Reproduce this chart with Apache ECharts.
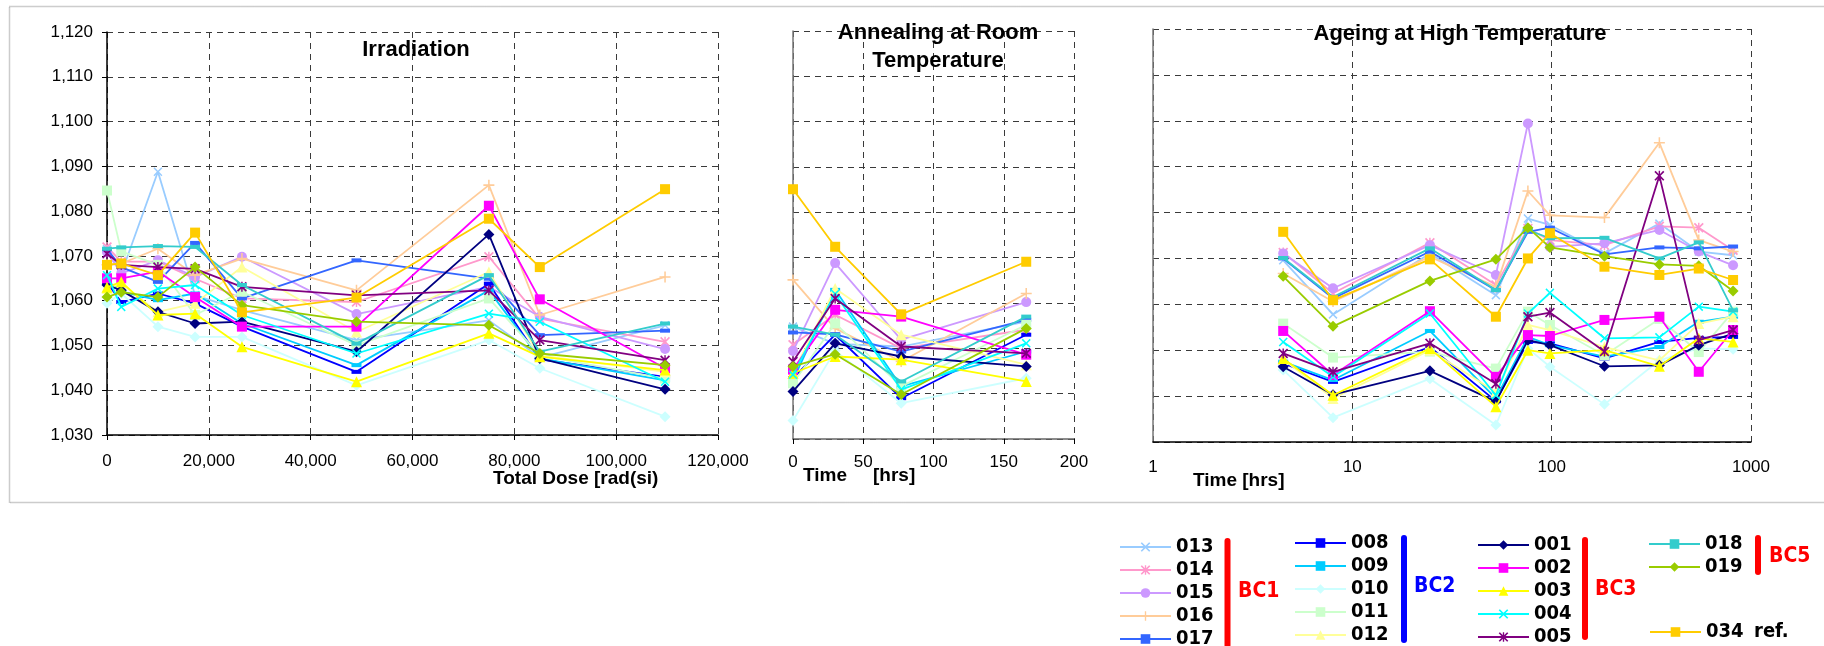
<!DOCTYPE html>
<html>
<head>
<meta charset="utf-8">
<script src="https://cdn.jsdelivr.net/npm/echarts@6/dist/echarts.min.js"></script>
<style>html,body{margin:0;padding:0;background:#fff}#c{width:1824px;height:646px}</style>
</head>
<body>
<div id="c"></div>
<script>
// ---------- DATA ----------
const samples = ['013','014','015','016','017','008','009','010','011','012','001','002','003','004','005','018','019','034'];
const dose = [0, 2800, 10000, 17300, 26500, 49000, 75000, 85000, 109600];
const annealHrs = [0, 30, 77, 166];
const ageHrs = [4.5, 8, 24.5, 52.5, 76, 98, 184, 347, 547, 813];
const yTicks = [1030, 1040, 1050, 1060, 1070, 1080, 1090, 1100, 1110, 1120];

// Irradiation (vs total dose)
const irr013 = [1071.5, 1066.0, 1088.8, 1061.2, 1057.9, 1051.2, 1055.6, 1047.3, 1054.5];
const irr014 = [1072.0, 1068.7, 1068.7, 1064.9, 1060.5, 1059.7, 1069.8, 1056.0, 1050.8];
const irr015 = [1070.8, 1066.1, 1069.0, 1065.3, 1069.8, 1057.0, 1063.1, 1056.4, 1049.2];
const irr016 = [1068.0, 1068.3, 1071.6, 1065.7, 1069.4, 1062.3, 1085.8, 1056.8, 1065.3];
const irr017 = [1071.5, 1067.5, 1064.2, 1072.9, 1060.5, 1069.0, 1064.9, 1052.3, 1053.3];
const irr008 = [1064.0, 1059.7, 1061.6, 1059.4, 1054.2, 1044.1, 1063.8, 1046.9, 1043.0];
const irr009 = [1064.5, 1062.0, 1060.1, 1061.6, 1054.9, 1045.6, 1062.3, 1047.1, 1042.2];
const irr010 = [1059.4, 1061.6, 1054.2, 1051.9, 1051.9, 1041.1, 1051.2, 1044.9, 1034.1];
const irr011 = [1084.6, 1071.0, 1068.0, 1056.8, 1062.0, 1050.0, 1060.5, 1047.8, 1042.6];
const irr012 = [1062.7, 1063.8, 1057.5, 1059.4, 1067.5, 1053.0, 1066.4, 1047.8, 1044.1];
const irr001 = [1063.5, 1062.3, 1057.5, 1054.9, 1055.3, 1048.6, 1074.8, 1047.1, 1040.2];
const irr002 = [1065.0, 1065.0, 1066.5, 1060.8, 1054.2, 1054.2, 1081.2, 1060.3, 1044.9];
const irr003 = [1063.0, 1064.2, 1056.8, 1057.1, 1049.7, 1041.9, 1052.7, 1047.5, 1044.5];
const irr004 = [1065.7, 1058.6, 1062.7, 1063.5, 1056.8, 1048.2, 1057.1, 1055.3, 1041.9];
const irr005 = [1070.5, 1068.0, 1067.5, 1067.1, 1063.1, 1061.2, 1062.3, 1051.2, 1046.7];
const irr018 = [1071.6, 1071.9, 1072.2, 1072.0, 1063.5, 1050.4, 1065.7, 1048.6, 1054.9];
const irr019 = [1060.8, 1061.9, 1060.8, 1067.5, 1059.0, 1055.3, 1054.5, 1048.2, 1045.6];
const irr034 = [1068.0, 1068.3, 1065.7, 1075.2, 1057.4, 1060.7, 1078.3, 1067.5, 1084.9];

// Annealing at room temperature (vs hours)
const ann013 = [1054.8, 1051.0, 1050.4, 1055.9];
const ann014 = [1050.8, 1057.4, 1050.0, 1054.1];
const ann015 = [1049.4, 1068.8, 1051.9, 1060.2];
const ann016 = [1065.1, 1054.4, 1047.1, 1062.1];
const ann017 = [1053.5, 1053.1, 1049.3, 1056.3];
const ann008 = [1043.4, 1053.0, 1039.0, 1053.0];
const ann009 = [1043.0, 1062.9, 1041.6, 1049.3];
const ann010 = [1034.1, 1049.5, 1037.9, 1043.4];
const ann011 = [1042.3, 1055.5, 1041.6, 1055.2];
const ann012 = [1044.5, 1063.2, 1053.0, 1046.4];
const ann001 = [1040.5, 1051.1, 1048.2, 1046.0];
const ann002 = [1045.3, 1058.5, 1057.0, 1048.6];
const ann003 = [1044.5, 1048.2, 1047.5, 1042.7];
const ann004 = [1044.2, 1062.0, 1040.9, 1051.1];
const ann005 = [1047.1, 1061.0, 1050.4, 1048.9];
const ann018 = [1054.8, 1053.0, 1042.7, 1057.0];
const ann019 = [1046.0, 1048.7, 1039.8, 1054.4];
const ann034 = [1085.1, 1072.4, 1057.5, 1069.1];

// Ageing at high temperature (vs hours, log)
const age013 = [1069.6, 1057.8, 1071.1, 1062.0, 1078.7, 1077.3, 1071.1, 1077.6, 1071.5, 1070.7];
const age014 = [1071.3, 1062.4, 1073.4, 1064.2, 1076.5, 1074.0, 1072.9, 1077.0, 1076.7, 1071.8];
const age015 = [1071.1, 1063.5, 1072.9, 1066.4, 1099.4, 1072.5, 1073.3, 1076.2, 1071.5, 1068.5];
const age016 = [1066.7, 1060.6, 1070.4, 1063.8, 1084.7, 1079.4, 1078.9, 1095.2, 1074.0, 1071.5];
const age017 = [1070.0, 1061.3, 1071.5, 1063.1, 1075.8, 1076.7, 1070.9, 1072.4, 1072.2, 1072.6];
const age008 = [1047.1, 1043.1, 1050.7, 1038.9, 1051.8, 1051.5, 1048.2, 1051.8, 1052.7, 1052.9];
const age009 = [1047.5, 1043.5, 1054.2, 1039.5, 1052.9, 1051.1, 1048.6, 1050.7, 1056.2, 1057.3];
const age010 = [1045.7, 1035.3, 1043.8, 1033.7, 1050.4, 1046.4, 1038.2, 1047.8, 1050.4, 1050.2];
const age011 = [1055.8, 1048.4, 1049.7, 1046.0, 1058.4, 1055.5, 1048.9, 1056.8, 1049.6, 1058.4];
const age012 = [1048.0, 1039.5, 1050.0, 1040.9, 1055.5, 1054.4, 1050.7, 1047.8, 1055.8, 1057.3];
const age001 = [1046.4, 1040.3, 1045.5, 1038.8, 1052.2, 1051.1, 1046.5, 1046.7, 1051.1, 1053.6];
const age002 = [1054.2, 1044.6, 1058.5, 1044.2, 1053.3, 1053.1, 1056.6, 1057.3, 1045.3, 1054.4];
const age003 = [1048.2, 1040.2, 1050.4, 1037.7, 1050.0, 1049.3, 1050.0, 1046.5, 1052.6, 1051.8];
const age004 = [1051.8, 1044.2, 1058.0, 1040.2, 1058.0, 1062.5, 1052.6, 1052.8, 1059.5, 1058.4];
const age005 = [1049.3, 1045.3, 1051.5, 1042.7, 1057.3, 1058.2, 1049.7, 1088.0, 1052.2, 1054.4];
const age018 = [1070.1, 1061.6, 1072.2, 1063.1, 1076.2, 1074.4, 1074.5, 1070.0, 1073.5, 1058.7];
const age019 = [1066.1, 1055.2, 1065.1, 1069.8, 1076.7, 1072.4, 1070.5, 1068.7, 1068.4, 1062.9];
const age034 = [1075.8, 1060.9, 1069.8, 1057.3, 1070.0, 1075.5, 1068.2, 1066.4, 1067.8, 1065.3];

const irrSets = [irr013, irr014, irr015, irr016, irr017, irr008, irr009, irr010, irr011, irr012, irr001, irr002, irr003, irr004, irr005, irr018, irr019, irr034];
const annSets = [ann013, ann014, ann015, ann016, ann017, ann008, ann009, ann010, ann011, ann012, ann001, ann002, ann003, ann004, ann005, ann018, ann019, ann034];
const ageSets = [age013, age014, age015, age016, age017, age008, age009, age010, age011, age012, age001, age002, age003, age004, age005, age018, age019, age034];

// ---------- STYLE ----------
const SYM_X = 'path://M0,1.2L1.2,0L5,3.8L8.8,0L10,1.2L6.2,5L10,8.8L8.8,10L5,6.2L1.2,10L0,8.8L3.8,5Z';
const SYM_AST = 'path://M0,1.2L1.2,0L5,3.8L8.8,0L10,1.2L6.2,5L10,8.8L8.8,10L5,6.2L1.2,10L0,8.8L3.8,5Z M4.3,0L5.7,0L5.7,10L4.3,10Z';
const SYM_PLUS = 'path://M4.3,0L5.7,0L5.7,4.3L10,4.3L10,5.7L5.7,5.7L5.7,10L4.3,10L4.3,5.7L0,5.7L0,4.3L4.3,4.3Z';
const colors = ['#99ccff','#ff99cc','#cc99ff','#ffcc99','#3366ff','#0000ff','#00ccff','#ccffff','#ccffcc','#ffff99','#000080','#ff00ff','#ffff00','#00ffff','#800080','#33cccc','#99cc00','#ffcc00'];
const symbols = [SYM_X, SYM_AST, 'circle', SYM_PLUS, 'rect', 'rect', 'rect', 'diamond', 'rect', 'triangle', 'diamond', 'rect', 'triangle', SYM_X, SYM_AST, 'rect', 'diamond', 'rect'];
const symSizes = [9, 10, 10, 11, [10,4], [10,4], [10,4], 11, 10, 11, 11, 10, 11, 9, 10, [10,4], 11, 10];

const FONT = "'Liberation Sans', Arial, sans-serif";
const LFONT = "'DejaVu Sans Condensed', 'Liberation Sans', sans-serif";

const chart = echarts.init(document.getElementById('c'), null, {renderer: 'canvas'});

const gridLine = {show: true, lineStyle: {color: '#3a3a3a', type: [6, 5], width: 1}};
const fmtY = v => (v / 1000).toFixed(3).replace('.', ',');

const grids = [
  {left: 107, top: 32, width: 611, height: 403, outerBoundsMode: 'none', containLabel: false},
  {left: 793, top: 31, width: 281, height: 408, outerBoundsMode: 'none', containLabel: false},
  {left: 1153, top: 29, width: 598, height: 413, outerBoundsMode: 'none', containLabel: false}
];

const xAxes = [
  {gridIndex: 0, type: 'value', min: 0, max: 120000, interval: 20000,
   axisLine: {lineStyle: {color: '#000', width: 1.5}}, axisTick: {show: true, length: 5, lineStyle: {color: '#000'}},
   axisLabel: {color: '#000', fontFamily: FONT, fontSize: 17, margin: 18, formatter: v => v.toLocaleString('en-US')},
   splitLine: gridLine},
  {gridIndex: 1, type: 'value', min: 0, max: 200, interval: 50,
   axisLine: {lineStyle: {color: '#666', width: 1.5}}, axisTick: {show: true, length: 5, lineStyle: {color: '#000'}},
   axisLabel: {color: '#000', fontFamily: FONT, fontSize: 17, margin: 15},
   splitLine: gridLine},
  {gridIndex: 2, type: 'log', logBase: 10, min: 1, max: 1000,
   axisLine: {lineStyle: {color: '#000', width: 1.5}}, axisTick: {show: false},
   axisLabel: {color: '#000', fontFamily: FONT, fontSize: 17, margin: 17, formatter: v => String(Math.round(v))},
   splitLine: gridLine, minorSplitLine: {show: false}}
];

const yAxes = [
  {gridIndex: 0, type: 'value', min: yTicks[0], max: yTicks[yTicks.length-1], interval: 10,
   axisLine: {show: true, lineStyle: {color: '#000', width: 1.5}}, axisTick: {show: true, length: 5, lineStyle: {color: '#000'}},
   axisLabel: {color: '#000', fontFamily: FONT, fontSize: 17, margin: 14, formatter: fmtY},
   splitLine: gridLine},
  {gridIndex: 1, type: 'value', min: yTicks[0], max: yTicks[yTicks.length-1], interval: 10,
   axisLine: {show: true, lineStyle: {color: '#777', width: 1.5}}, axisTick: {show: false},
   axisLabel: {show: false}, splitLine: gridLine},
  {gridIndex: 2, type: 'value', min: yTicks[0], max: yTicks[yTicks.length-1], interval: 10,
   axisLine: {show: true, lineStyle: {color: '#777', width: 1.5}}, axisTick: {show: false},
   axisLabel: {show: false}, splitLine: gridLine}
];

const series = [];
const panels = [[dose, irrSets], [annealHrs, annSets], [ageHrs, ageSets]];
panels.forEach(([xs, sets], p) => {
  samples.forEach((name, i) => {
    series.push({
      name: name, type: 'line', xAxisIndex: p, yAxisIndex: p,
      data: xs.map((x, k) => [x, sets[i][k]]),
      symbol: symbols[i], symbolSize: symSizes[i], showAllSymbol: true,
      lineStyle: {color: colors[i], width: 1.8},
      itemStyle: {color: colors[i]},
      emphasis: {disabled: true}, silent: true, z: 2 + i * 0.01
    });
  });
});

const legendBase = {
  orient: 'vertical', selectedMode: false, itemWidth: 51, itemHeight: 12, itemGap: 3, padding: 0,
  height: 200, width: 120,
  textStyle: {color: '#000', fontFamily: LFONT, fontWeight: 'bold', fontSize: 20}
};
const legends = [
  Object.assign({}, legendBase, {left: 1119, top: 537, data: ['013','014','015','016','017']}),
  Object.assign({}, legendBase, {left: 1294, top: 533, data: ['008','009','010','011','012']}),
  Object.assign({}, legendBase, {left: 1477, top: 535, data: ['001','002','003','004','005']}),
  Object.assign({}, legendBase, {left: 1648, top: 534, data: ['018','019']}),
  Object.assign({}, legendBase, {left: 1649, top: 622, data: ['034']})
];

const titleStyle = {fill: '#000', font: "bold 22px " + FONT, textAlign: 'center', textVerticalAlign: 'middle'};
const axisNameStyle = {fill: '#000', font: "bold 19px " + FONT, textVerticalAlign: 'middle'};
const bcStyle = (c) => ({fill: c, font: "bold 21px " + LFONT, textVerticalAlign: 'middle'});

const graphic = [
  {type: 'rect', shape: {x: 9.5, y: 6.5, width: 1830, height: 496}, style: {fill: 'none', stroke: '#9a9a9a', lineWidth: 1.5, lineDash: [1, 1]}, z: 0, silent: true},
  {type: 'text', style: Object.assign({text: 'Irradiation', x: 416, y: 50}, titleStyle), z: 10},
  {type: 'text', style: Object.assign({text: 'Annealing at Room', x: 938, y: 33}, titleStyle), z: 10},
  {type: 'text', style: Object.assign({text: 'Temperature', x: 938, y: 61}, titleStyle), z: 10},
  {type: 'text', style: Object.assign({text: 'Ageing at High Temperature', x: 1460, y: 34}, titleStyle), z: 10},
  {type: 'text', style: Object.assign({text: 'Total Dose [rad(si)', x: 493, y: 479}, axisNameStyle), z: 10},
  {type: 'text', style: Object.assign({text: 'Time', x: 803, y: 476}, axisNameStyle), z: 10},
  {type: 'text', style: Object.assign({text: '[hrs]', x: 873, y: 476}, axisNameStyle), z: 10},
  {type: 'text', style: Object.assign({text: 'Time [hrs]', x: 1193, y: 481}, axisNameStyle), z: 10},
  {type: 'rect', shape: {x: 1224.5, y: 538, width: 6, height: 110, r: 3}, style: {fill: '#ff0000'}},
  {type: 'rect', shape: {x: 1401, y: 535, width: 6, height: 108, r: 3}, style: {fill: '#0000ff'}},
  {type: 'rect', shape: {x: 1582, y: 537, width: 6, height: 103, r: 3}, style: {fill: '#ff0000'}},
  {type: 'rect', shape: {x: 1755, y: 535, width: 6, height: 40, r: 3}, style: {fill: '#ff0000'}},
  {type: 'text', style: Object.assign({text: 'BC1', x: 1238, y: 592}, bcStyle('#ff0000'))},
  {type: 'text', style: Object.assign({text: 'BC2', x: 1414, y: 587}, bcStyle('#0000ff'))},
  {type: 'text', style: Object.assign({text: 'BC3', x: 1595, y: 590}, bcStyle('#ff0000'))},
  {type: 'text', style: Object.assign({text: 'BC5', x: 1769, y: 557}, bcStyle('#ff0000'))},
  {type: 'text', style: {text: 'ref.', x: 1754, y: 632, fill: '#000', font: "bold 20px " + LFONT, textVerticalAlign: 'middle'}}
];

chart.setOption({
  backgroundColor: '#ffffff',
  animation: false,
  grid: grids,
  xAxis: xAxes,
  yAxis: yAxes,
  legend: legends,
  series: series,
  graphic: graphic
});
</script>
</body>
</html>
